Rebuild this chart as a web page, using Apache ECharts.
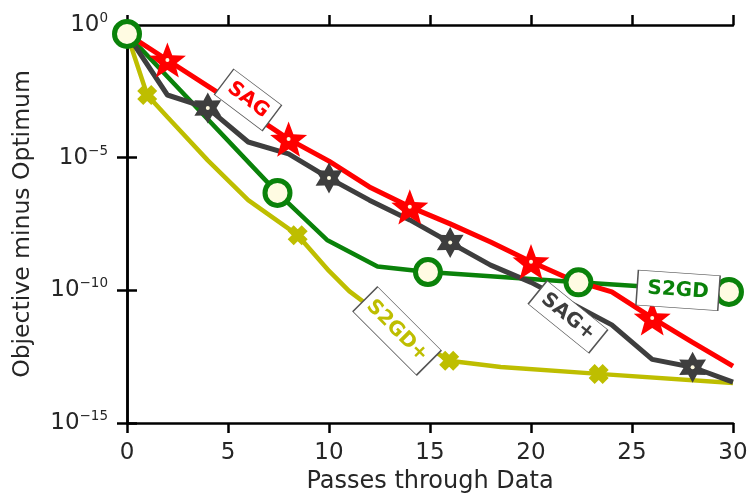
<!DOCTYPE html>
<html>
<head>
<meta charset="utf-8">
<script src="https://cdn.jsdelivr.net/npm/echarts@6/dist/echarts.min.js"></script>
<style>
html,body{margin:0;padding:0;background:#fff;}
#chart{width:749px;height:494px;}
</style>
</head>
<body>
<div id="chart"></div>
<script>
// ---- data ----
const sagX = [0, 2, 4, 6, 8, 10, 12, 14, 16, 18, 20, 22, 24, 26, 28, 30];
const sagY = [4.6e-1, 4.8e-2, 5.0e-3, 5.2e-4, 5.0e-5, 7.4e-6, 7.9e-7, 1.4e-7, 3.2e-8, 6.6e-9, 1.2e-9, 2.5e-10, 8.7e-11, 9.1e-12, 1.1e-12, 1.4e-13];
const sagMarkX = [2, 8, 14, 20, 26];

const sagPlusX = [0, 2, 4, 6, 8, 10, 12, 14, 16, 18, 20, 22, 24, 26, 28, 30];
const sagPlusY = [4.6e-1, 2.3e-3, 7.4e-4, 3.9e-5, 1.4e-5, 1.7e-6, 2.5e-7, 4.5e-8, 6.3e-9, 8.9e-10, 2.0e-10, 3.2e-11, 5.0e-12, 2.5e-13, 1.26e-13, 3.5e-14];
const sagPlusMarkX = [4, 10, 16, 28];

const s2gdX = [0, 7.45, 9.9, 12.4, 14.9, 22.35, 29.8];
const s2gdY = [4.6e-1, 4.7e-7, 7.9e-9, 7.9e-10, 4.9e-10, 2.0e-10, 8.7e-11];
const s2gdMarkX = [0, 7.45, 14.9, 22.35, 29.8];

const s2gdPlusX = [0, 1, 2, 4, 6, 8.45, 10, 11, 12, 14, 15.95, 18.5, 23.35, 30];
const s2gdPlusY = [4.6e-1, 2.3e-3, 3.4e-4, 7.9e-6, 2.5e-7, 1.2e-8, 5.4e-10, 9.3e-11, 2.5e-11, 2.0e-12, 2.2e-13, 1.3e-13, 7.1e-14, 3.2e-14];
const s2gdPlusMarkX = [1, 8.45, 15.95, 23.35];

// in-plot labels
const labelText  = ['SAG', 'SAG+', 'S2GD', 'S2GD+'];
const labelX     = [5.99, 21.83, 27.28, 13.37];
const labelY     = [1.5e-3, 1.0e-11, 1.0e-10, 2.95e-12];

const xTicks = { min: 0, max: 30, interval: 5 };
const yTicks = { min: 1e-15, max: 1 };

// ---- styles ----
const RED = '#ff0000', GRAY = '#3e3e3e', GREEN = '#0a820a', OLIVE = '#bebe00', CREAM = '#fffbe2';
const FONT = 'DejaVu Sans';
const TXT = '#262626';

function starPath(n, ratio) {
  let d = '';
  for (let k = 0; k < 2 * n; k++) {
    const a = (-90 + k * 180 / n) * Math.PI / 180;
    const r = (k % 2) ? 50 * ratio : 50;
    d += (k ? 'L' : 'M') + (50 + r * Math.cos(a)).toFixed(2) + ' ' + (50 + r * Math.sin(a)).toFixed(2) + ' ';
  }
  return 'path://' + d + 'Z';
}
const t = 30;
const xPath = 'path://M' + t + ' 0L100 ' + (100 - t) + 'L' + (100 - t) + ' 100L0 ' + t + 'Z' +
              'M' + (100 - t) + ' 0L100 ' + t + 'L' + t + ' 100L0 ' + (100 - t) + 'Z';

const pairs = (xs, ys) => xs.map((x, i) => [x, ys[i]]);
const marks = (xs, ys, mx) => xs.map((x, i) => [x, ys[i]]).filter(p => mx.includes(p[0]));

function lineSeries(name, xs, ys, color, z, width) {
  return { name, type: 'line', data: pairs(xs, ys), symbol: 'none', z,
    lineStyle: { color, width }, itemStyle: { color } };
}
function markSeries(xs, ys, mx, symbol, size, style, z) {
  return { type: 'scatter', data: marks(xs, ys, mx), symbol, symbolSize: size, symbolKeepAspect: true,
    itemStyle: Object.assign({ opacity: 1 }, style), z };
}
function boxLabel(i, color, w, h, rot) {
  return { coord: [labelX[i], labelY[i]], symbol: 'rect', symbolSize: [w, h], symbolRotate: rot,
    itemStyle: { color: '#fff', borderColor: '#555', borderWidth: 1, opacity: 1 },
    label: { show: true, position: 'inside', formatter: labelText[i], rotate: rot, color,
      fontFamily: FONT, fontWeight: 'bold', fontSize: 20 } };
}

const supFmt = v => {
  const e = Math.round(Math.log10(v));
  return '{b|10}{s|' + (e < 0 ? '\u2212' + (-e) : e) + '}';
};

const axisLineStyle = { color: '#000', width: 2.5 };
const tickStyle = { show: true, length: 10, lineStyle: { color: '#000', width: 2.5 } };

const chart = echarts.init(document.getElementById('chart'), null, { renderer: 'canvas' });
chart.setOption({
  animation: false,
  backgroundColor: '#fff',
  grid: { left: 127, right: 16, top: 25, bottom: 71, containLabel: false, outerBoundsMode: 'none' },
  xAxis: [
    { type: 'value', min: xTicks.min, max: xTicks.max, interval: xTicks.interval, position: 'bottom',
      name: 'Passes through Data', nameLocation: 'middle', nameGap: 39,
      nameTextStyle: { fontFamily: FONT, fontSize: 24, color: TXT },
      axisLine: { lineStyle: axisLineStyle }, axisTick: tickStyle, splitLine: { show: false },
      axisLabel: { fontFamily: FONT, fontSize: 23, color: TXT, margin: 19 } },
    { type: 'value', min: xTicks.min, max: xTicks.max, interval: xTicks.interval, position: 'top',
      axisLine: { lineStyle: axisLineStyle }, axisTick: tickStyle, splitLine: { show: false },
      axisLabel: { show: false } }
  ],
  yAxis: [
    { type: 'log', logBase: 10, min: yTicks.min, max: yTicks.max, interval: 5, position: 'left',
      name: 'Objective minus Optimum', nameLocation: 'middle', nameGap: 92,
      nameTextStyle: { fontFamily: FONT, fontSize: 23.5, color: TXT },
      axisLine: { lineStyle: axisLineStyle }, axisTick: tickStyle, splitLine: { show: false },
      axisLabel: { margin: 19, formatter: supFmt,
        rich: { b: { fontFamily: FONT, fontSize: 23, color: TXT },
                s: { fontFamily: FONT, fontSize: 13.5, color: TXT, verticalAlign: 'bottom', padding: [0, 0, 13, 0] } } } },
    { type: 'log', logBase: 10, min: yTicks.min, max: yTicks.max, interval: 5, position: 'right',
      axisLine: { lineStyle: axisLineStyle }, axisTick: tickStyle, splitLine: { show: false },
      axisLabel: { show: false } }
  ],
  series: [
    lineSeries('S2GD+', s2gdPlusX, s2gdPlusY, OLIVE, 1, 4.5),
    lineSeries('S2GD', s2gdX, s2gdY, GREEN, 1.2, 4.5),
    lineSeries('SAG', sagX, sagY, RED, 1.4, 5),
    lineSeries('SAG+', sagPlusX, sagPlusY, GRAY, 1.6, 5),
    markSeries(s2gdPlusX, s2gdPlusY, s2gdPlusMarkX, xPath, 20, { color: OLIVE }, 2),
    markSeries(sagX, sagY, sagMarkX, starPath(5, 0.42), 37, { color: RED }, 2.5),
    markSeries(sagPlusX, sagPlusY, sagPlusMarkX, starPath(6, 0.56), 31, { color: GRAY }, 3),
    markSeries(s2gdX, s2gdY, s2gdMarkX, 'circle', 25, { color: CREAM, borderColor: GREEN, borderWidth: 5 }, 3.5),
    markSeries(sagX, sagY, sagMarkX, 'circle', 4, { color: CREAM }, 4),
    markSeries(sagPlusX, sagPlusY, sagPlusMarkX, 'circle', 4, { color: CREAM }, 4),
    { type: 'scatter', data: [], z: 4,
      markPoint: { data: [
        boxLabel(0, RED, 60, 32, -37),
        boxLabel(1, GRAY, 78, 30, -39),
        boxLabel(2, GREEN, 82, 35, -4),
        boxLabel(3, OLIVE, 90, 35, -45)
      ] } }
  ]
});
</script>
</body>
</html>
